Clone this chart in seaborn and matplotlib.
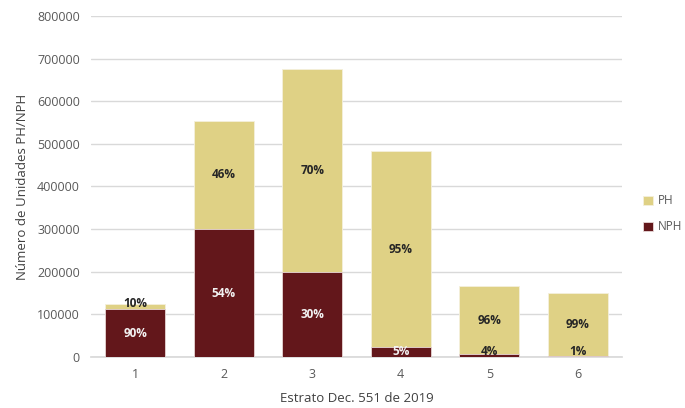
import matplotlib
matplotlib.use("Agg")
import matplotlib.pyplot as plt
import seaborn as sns
import pandas as pd

categories = ["1", "2", "3", "4", "5", "6"]
nph = [112500, 300000, 200000, 23000, 6700, 1500]
ph = [12500, 254000, 475000, 460000, 160000, 149000]
y_ticks = [0, 100000, 200000, 300000, 400000, 500000, 600000, 700000, 800000]

PH_COLOR = "#DFD185"
NPH_COLOR = "#63171B"

sns.set_theme(style="white")
plt.rcParams["font.family"] = ["Open Sans", "DejaVu Sans"]

totals = [a + b for a, b in zip(nph, ph)]
df = pd.DataFrame({"cat": categories, "nph": nph, "ph": ph, "total": totals})

fig = plt.figure(figsize=(6.85, 4.08), dpi=100)
ax = fig.add_axes([0.133, 0.125, 0.775, 0.836])

sns.barplot(data=df, x="cat", y="total", color=PH_COLOR, width=0.68,
            saturation=1, ax=ax, label="PH", edgecolor="#F4F0DC",
            linewidth=0.6, zorder=2)
sns.barplot(data=df, x="cat", y="nph", color=NPH_COLOR, width=0.68,
            saturation=1, ax=ax, label="NPH", edgecolor="#E8D8D8",
            linewidth=0.6, zorder=3)

for i in range(len(categories)):
    t = totals[i]
    p_n = round(100 * nph[i] / t)
    p_p = round(100 * ph[i] / t)
    yc_n = max(nph[i] / 2, 14000)
    col_n = "#F2F2F2" if nph[i] > 15000 else "#262626"
    ax.text(i, yc_n, f"{p_n}%", ha="center", va="center", fontsize=8.5,
            fontweight="bold", color=col_n, zorder=5)
    ax.text(i, nph[i] + ph[i] / 2 + (6000 if ph[i] < 30000 else 0), f"{p_p}%",
            ha="center", va="center", fontsize=8.5, fontweight="bold",
            color="#262626", zorder=5)

ax.set_xlim(-0.5, 5.5)
ax.set_ylim(0, 800000)
ax.set_yticks(y_ticks)
ax.set_yticklabels([str(v) for v in y_ticks])
ax.yaxis.grid(True, color="#D9D9D9", linewidth=1, zorder=0)
ax.set_axisbelow(True)
for s in ["top", "right", "left"]:
    ax.spines[s].set_visible(False)
ax.spines["bottom"].set_color("#D9D9D9")
ax.tick_params(axis="both", length=0, labelsize=9, colors="#595959", pad=8)
ax.set_xlabel("Estrato Dec. 551 de 2019", fontsize=9.5, color="#404040", labelpad=8)
ax.set_ylabel("Número de Unidades PH/NPH", fontsize=9.5, color="#404040", labelpad=6)

handles, labels = ax.get_legend_handles_labels()
ax.legend(handles, labels, loc="center left", bbox_to_anchor=(1.02, 0.42),
          frameon=False, fontsize=8.5, handlelength=0.8, handleheight=0.8,
          labelspacing=1.1, handletextpad=0.4, labelcolor="#595959")

fig.savefig("out.png", dpi=100)
